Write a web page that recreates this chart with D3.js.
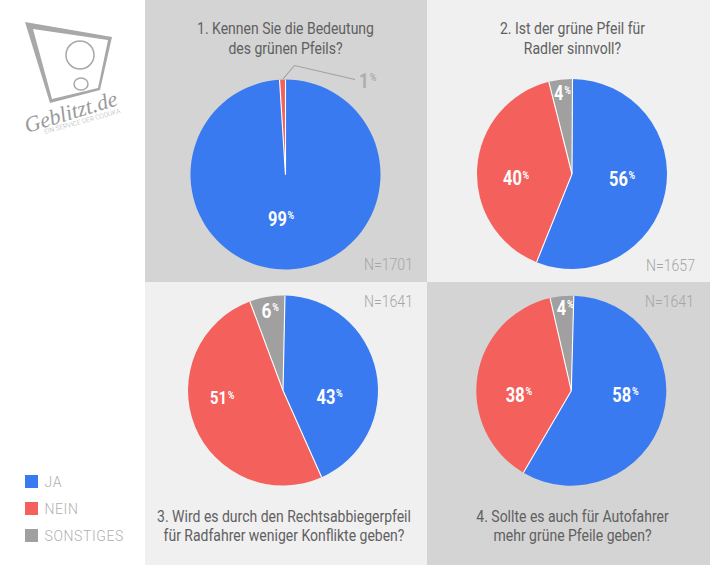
<!DOCTYPE html>
<html>
<head>
<meta charset="utf-8">
<script src="https://cdn.jsdelivr.net/npm/d3@7"></script>
<style>
  html, body { margin: 0; padding: 0; background: #fff; }
  svg { display: block; font-family: Roboto, sans-serif; }
</style>
</head>
<body>
<svg id="chart" width="710" height="565"></svg>
<script>
// data
const answers = ['JA', 'NEIN', 'SONSTIGES'];
const answerColors = ['#3a7af0', '#f4605c', '#a0a0a0'];
const q1Values = [99, 1, 0];
const q2Values = [56, 40, 4];
const q3Values = [43, 51, 6];
const q4Values = [58, 38, 4];
const sampleSizes = [1701, 1657, 1641, 1641];
const questions = [
  ['1. Kennen Sie die Bedeutung', 'des grünen Pfeils?'],
  ['2. Ist der grüne Pfeil für', 'Radler sinnvoll?'],
  ['3. Wird es durch den Rechtsabbiegerpfeil', 'für Radfahrer weniger Konflikte geben?'],
  ['4. Sollte es auch für Autofahrer', 'mehr grüne Pfeile geben?']
];

// layout of the four panels, labels are [dx, dy, font size] from the pie centre
const panels = [
  { x: 145, y: 0, w: 282, h: 282, bg: '#d4d4d4', cx: 285.5, cy: 174.5, r: 95, rot: 0, values: q1Values,
    textY: [33.5, 53.5], textX: 285.5, nX: 413, nY: 270, labels: [[-17.5, 51, 20], null, null] },
  { x: 427, y: 0, w: 283, h: 282, bg: '#f0f0f0', cx: 572, cy: 174, r: 95, rot: 0.3, values: q2Values,
    textY: [33.5, 53.5], textX: 572.5, nX: 695, nY: 271, labels: [[37, 11.5, 20], [-69, 11, 20], [-18, -74, 20]] },
  { x: 145, y: 282, w: 282, h: 283, bg: '#f0f0f0', cx: 283, cy: 390.5, r: 95, rot: 1.2, values: q3Values,
    textY: [522, 541], textX: 284, nX: 413, nY: 307, labels: [[33.5, 13, 20], [-73, 13.5, 18], [-21.5, -73, 21]] },
  { x: 427, y: 282, w: 283, h: 283, bg: '#d4d4d4', cx: 571.3, cy: 390.7, r: 95, rot: 1.5, values: q4Values,
    textY: [522, 541], textX: 572.5, nX: 694, nY: 307, labels: [[41, 11, 20], [-65.5, 11, 20], [-14.5, -76, 20]] }
];

const svg = d3.select('#chart');
const color = d3.scaleOrdinal().domain(answers).range(answerColors);
const DEG = Math.PI / 180;

// digits with a small raised percent sign, squeezed to look like a condensed face
function addPercent(parent, x, y, size, value, fill) {
  const t = parent.append('text')
    .attr('transform', `translate(${x},${y}) scale(0.82,1)`)
    .attr('fill', fill)
    .attr('font-weight', 700)
    .attr('font-size', size)
    .text(value);
  t.append('tspan')
    .attr('font-size', 11)
    .attr('font-weight', 700)
    .attr('dx', 1)
    .attr('dy', -(size * 0.711 - 8))
    .text('%');
}

function drawPanel(p, i) {
  svg.append('rect')
    .attr('x', p.x).attr('y', p.y)
    .attr('width', p.w).attr('height', p.h)
    .attr('fill', p.bg);

  const g = svg.append('g').attr('transform', `translate(${p.cx},${p.cy})`);
  const arc = d3.arc().innerRadius(0).outerRadius(p.r);
  const pie = d3.pie().sort(null)
    .startAngle(p.rot * DEG)
    .endAngle((360 + p.rot) * DEG);
  const slices = pie(p.values);

  g.selectAll('.slice')
    .data(slices)
    .enter().append('path')
      .attr('class', 'slice')
      .attr('d', arc)
      .attr('fill', (d, j) => color(answers[j]));

  // white separators only between slices, the rim stays clean
  g.selectAll('.sep')
    .data(slices.filter(d => d.value > 0))
    .enter().append('line')
      .attr('class', 'sep')
      .attr('x1', 0).attr('y1', 0)
      .attr('x2', d => d3.pointRadial(d.endAngle, p.r)[0])
      .attr('y2', d => d3.pointRadial(d.endAngle, p.r)[1])
      .attr('stroke', '#fff')
      .attr('stroke-width', 1.1);

  p.values.forEach((v, j) => {
    const l = p.labels[j];
    if (l) addPercent(g, l[0], l[1], l[2], v, '#fff');
  });

  svg.selectAll(null)
    .data(questions[i])
    .enter().append('text')
      .attr('transform', (d, j) => `translate(${p.textX},${p.textY[j]}) scale(0.875,1)`)
      .attr('text-anchor', 'middle')
      .attr('fill', '#606060')
      .attr('font-size', 16)
      .text(d => d);

  svg.append('text')
    .attr('transform', `translate(${p.nX},${p.nY}) scale(0.88,1)`)
    .attr('text-anchor', 'end')
    .attr('fill', '#a6a6a6')
    .attr('font-size', 16)
    .attr('font-weight', 300)
    .text(`N=${sampleSizes[i]}`);
}

panels.forEach(drawPanel);

// leader line for the 1% slice of question 1
svg.append('path')
  .attr('d', 'M283,79 L294.5,65.5 L355,79.5')
  .attr('fill', 'none')
  .attr('stroke', '#a0a0a0')
  .attr('stroke-width', 1.1);
addPercent(svg, 359, 87.5, 21, q1Values[1], '#adadad');

// legend
const legend = svg.selectAll('.legend')
  .data(answers)
  .enter().append('g')
    .attr('class', 'legend')
    .attr('transform', (d, i) => `translate(25,${475 + i * 27})`);
legend.append('rect')
  .attr('width', 13).attr('height', 13)
  .attr('fill', d => color(d));
legend.append('text')
  .attr('x', 19.5).attr('y', 12.3)
  .attr('fill', '#b0b0b0')
  .attr('font-size', 14)
  .attr('font-weight', 300)
  .attr('letter-spacing', 0.6)
  .text(d => d);

// logo
const logo = svg.append('g');
logo.append('path')
  .attr('d', 'M25,22 L112,37 L100,90 L50,103 Z M33,29 L108,40 L98,88 L52,99 Z')
  .attr('fill', '#a8a8a8')
  .attr('fill-rule', 'evenodd');
logo.append('ellipse')
  .attr('cx', 80).attr('cy', 55).attr('rx', 14).attr('ry', 14)
  .attr('fill', 'none').attr('stroke', '#a8a8a8').attr('stroke-width', 1.5);
logo.append('ellipse')
  .attr('cx', 81).attr('cy', 84).attr('rx', 7).attr('ry', 6)
  .attr('fill', 'none').attr('stroke', '#a8a8a8').attr('stroke-width', 1.5);
logo.append('text')
  .attr('transform', 'translate(27,133) rotate(-17)')
  .attr('fill', '#9a9a9a')
  .attr('font-family', 'Liberation Serif')
  .attr('font-style', 'italic')
  .attr('font-size', 22)
  .text('Geblitzt.de');
logo.append('text')
  .attr('transform', 'translate(45,134) rotate(-15.5)')
  .attr('fill', '#b0b0b0')
  .attr('font-size', 6.6)
  .attr('font-weight', 300)
  .text('EIN SERVICE DER CODUKA');
</script>
</body>
</html>
